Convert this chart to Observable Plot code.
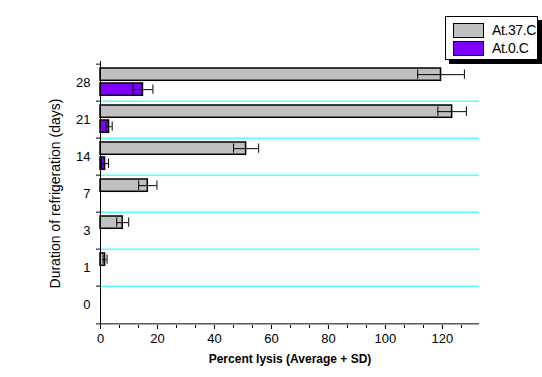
<!DOCTYPE html>
<html>
<head>
<meta charset="utf-8">
<script src="https://cdn.jsdelivr.net/npm/d3@7"></script>
<script src="https://cdn.jsdelivr.net/npm/@observablehq/plot@0.6"></script>
<style>
  html, body { margin: 0; padding: 0; background: white; }
  #wrap { position: relative; width: 542px; height: 377px; }
  #legend {
    position: absolute; left: 445px; top: 16px; width: 91px; height: 42px;
    border: 1px solid black; background: white; box-shadow: 4px 4px 0 black;
    font-family: "Liberation Sans", Arial, sans-serif; font-size: 14px; letter-spacing: -0.4px;
  }
  .row { position: absolute; left: 7px; display: flex; align-items: center; }
  .sw { width: 29px; height: 13px; border: 1px solid black; margin-right: 8px; }
</style>
</head>
<body>
<div id="wrap"></div>
<script>
// Data
const durations = ["28", "21", "14", "7", "3", "1", "0"];
const lysis37 = [119.5, 123.4, 51.1, 16.6, 7.8, 1.6, 0];
const sd37 = [8.2, 5.0, 4.4, 3.2, 2.1, 0.7, 0];
const lysis0 = [14.9, 3.0, 1.6, 0, 0, 0, 0];
const sd0 = [3.5, 1.1, 1.2, 0, 0, 0, 0];
const seriesNames = ["At.37.C", "At.0.C"];
const seriesColors = ["#C0C0C0", "#8000FF"];
const xTicks = [0, 20, 40, 60, 80, 100, 120];
const xMinorTicks = d3.range(0, 133, 20 / 3);
const xTitle = "Percent lysis (Average + SD)";
const yTitle = "Duration of refrigeration (days)";

const W = 542, H = 377, mL = 100, mR = 63, mT = 61, mB = 52;
const bw = (H - mT - mB) / durations.length;

const d37 = durations.map((d, i) => ({d, v: lysis37[i], sd: sd37[i]})).filter(r => r.v > 0);
const d0 = durations.map((d, i) => ({d, v: lysis0[i], sd: sd0[i]})).filter(r => r.v > 0);

function errorMarks(data, barTop, barH) {
  const center = barTop + barH / 2;
  const capTop = center - 5, capBot = center + 5;
  return [
    Plot.ruleY(data, {y: "d", x1: r => r.v - r.sd, x2: r => r.v + r.sd, stroke: "black", strokeWidth: 1, dy: center - bw / 2}),
    Plot.tickX(data, {x: r => r.v - r.sd, y: "d", stroke: "black", strokeWidth: 1, insetTop: capTop, insetBottom: bw - capBot}),
    Plot.tickX(data, {x: r => r.v + r.sd, y: "d", stroke: "black", strokeWidth: 1, insetTop: capTop, insetBottom: bw - capBot})
  ];
}

const chart = Plot.plot({
  width: W, height: H,
  marginLeft: mL, marginRight: mR, marginTop: mT, marginBottom: mB,
  style: {fontFamily: "'Liberation Sans', Arial, sans-serif", fontSize: "13px", color: "black", background: "white"},
  x: {domain: [0, 133], axis: null},
  y: {domain: durations, padding: 0, axis: null},
  marks: [
    Plot.ruleY(durations.slice(1), {y: d => d, stroke: "#00FFFF", strokeWidth: 1, dy: -bw / 2}),
    Plot.barX(d37, {x: "v", y: "d", fill: seriesColors[0], stroke: "black", strokeWidth: 1.5, insetTop: 4, insetBottom: bw - 17}),
    Plot.barX(d0, {x: "v", y: "d", fill: seriesColors[1], stroke: "black", strokeWidth: 1.5, insetTop: 19, insetBottom: bw - 32}),
    ...errorMarks(d37, 4, 13),
    ...errorMarks(d0, 19, 13),
    Plot.ruleX([0], {stroke: "black", strokeWidth: 1}),
    Plot.ruleY(["0"], {y: d => d, stroke: "black", strokeWidth: 1, dy: bw / 2}),
    Plot.axisX({ticks: xTicks, tickSize: 4, tickPadding: 4, fontSize: 13, label: null}),
    Plot.axisX({ticks: xMinorTicks, tickSize: 3, tickFormat: () => "", label: null}),
    Plot.axisY({ticks: durations, tickSize: 0, tickPadding: 10, fontSize: 13, label: null}),
    Plot.axisY({ticks: durations, tickSize: 4, tickFormat: () => "", label: null, dy: -bw / 2}),
    Plot.axisY({ticks: ["0"], tickSize: 4, tickFormat: () => "", label: null, dy: bw / 2}),
    Plot.text([xTitle], {frameAnchor: "bottom", dy: 37, fontWeight: "bold", fontSize: 12}),
    Plot.text([yTitle], {frameAnchor: "left", textAnchor: "middle", rotate: -90, dx: -45, fontSize: 14})
  ]
});

const wrap = document.getElementById("wrap");
wrap.appendChild(chart);

const legend = document.createElement("div");
legend.id = "legend";
seriesNames.forEach((name, i) => {
  const row = document.createElement("div");
  row.className = "row";
  row.style.top = (5 + i * 18) + "px";
  const sw = document.createElement("div");
  sw.className = "sw";
  sw.style.background = seriesColors[i];
  const t = document.createElement("span");
  t.textContent = name;
  row.appendChild(sw);
  row.appendChild(t);
  legend.appendChild(row);
});
wrap.appendChild(legend);
</script>
</body>
</html>
